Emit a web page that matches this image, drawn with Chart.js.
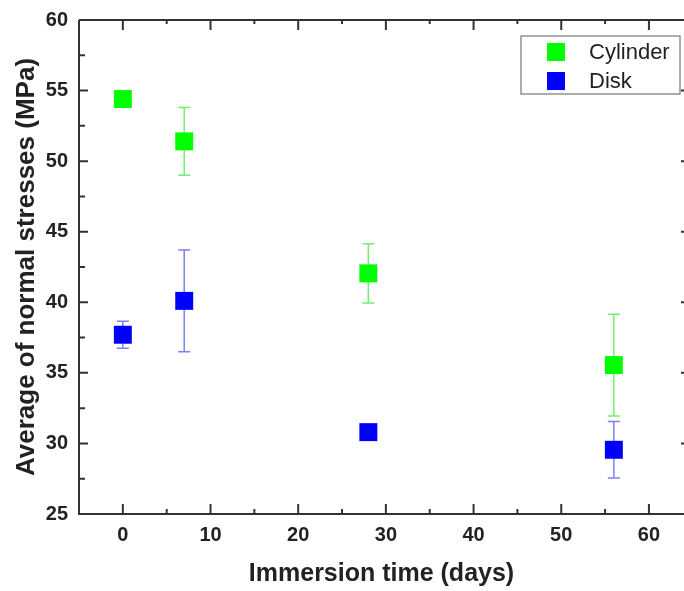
<!DOCTYPE html>
<html>
<head>
<meta charset="utf-8">
<script src="https://cdn.jsdelivr.net/npm/chart.js@4.4.0/dist/chart.umd.min.js"></script>
<style>
  html, body { margin: 0; padding: 0; background: #fff; }
  #wrap { width: 684px; height: 591px; }
</style>
</head>
<body>
<div id="wrap"><canvas id="stressChart" width="684" height="591"></canvas></div>
<script>
// immersion time (days) and measured stresses (MPa)
var days = [0, 7, 28, 56];
var cylinder = [54.4, 51.4, 42.05, 35.55];
var cylinderErr = [0, 2.4, 2.1, 3.6];
var disk = [37.7, 40.1, 30.8, 29.55];
var diskErr = [0.95, 3.6, 0, 2.0];

var dayTicks = [0, 10, 20, 30, 40, 50, 60];
var stressTicks = [25, 30, 35, 40, 45, 50, 55, 60];

var FONT = "'Liberation Sans', Arial, sans-serif";

function points(ys) {
  return days.map(function (d, i) { return { x: d, y: ys[i] }; });
}

// error bars under the markers, then frame, tick marks and legend box on top
var framePlugin = {
  id: "frame",
  beforeDatasetsDraw: function (chart) {
    var ctx = chart.ctx;
    var yScale = chart.scales.y;
    chart.data.datasets.forEach(function (ds, di) {
      var meta = chart.getDatasetMeta(di);
      ctx.save();
      ctx.strokeStyle = ds.errorColor;
      ctx.lineWidth = 1.5;
      meta.data.forEach(function (pt, i) {
        var e = ds.errors[i];
        if (!e) return;
        var v = ds.data[i].y;
        var top = yScale.getPixelForValue(v + e);
        var bot = yScale.getPixelForValue(v - e);
        ctx.beginPath();
        ctx.moveTo(pt.x, top); ctx.lineTo(pt.x, bot);
        ctx.moveTo(pt.x - 6, top); ctx.lineTo(pt.x + 6, top);
        ctx.moveTo(pt.x - 6, bot); ctx.lineTo(pt.x + 6, bot);
        ctx.stroke();
      });
      ctx.restore();
    });
  },
  afterDraw: function (chart) {
    var ctx = chart.ctx;
    var a = chart.chartArea;
    var xs = chart.scales.x, ys = chart.scales.y;
    ctx.save();
    ctx.strokeStyle = "#333";
    ctx.lineWidth = 2;
    ctx.beginPath();
    ctx.moveTo(a.left, a.top); ctx.lineTo(a.right + 2, a.top);
    ctx.moveTo(a.left, a.top); ctx.lineTo(a.left, a.bottom);
    ctx.lineTo(a.right + 2, a.bottom);
    ctx.stroke();

    ctx.beginPath();
    var v, px, major;
    for (v = 0; v <= 60; v += 5) {
      px = xs.getPixelForValue(v);
      major = v % 10 === 0;
      ctx.moveTo(px, a.bottom); ctx.lineTo(px, a.bottom - (major ? 10 : 5));
      ctx.moveTo(px, a.top); ctx.lineTo(px, a.top + (major ? 10 : 4));
    }
    for (v = 25; v <= 60; v += 2.5) {
      px = ys.getPixelForValue(v);
      major = v % 5 === 0;
      ctx.moveTo(a.left, px); ctx.lineTo(a.left + (major ? 9 : 6), px);
      if (major) { ctx.moveTo(a.right, px); ctx.lineTo(a.right - 3, px); }
    }
    ctx.stroke();

    // legend
    ctx.strokeStyle = "#777";
    ctx.lineWidth = 1.2;
    ctx.strokeRect(521, 36, 159, 58);
    ctx.font = "22px " + FONT;
    ctx.textBaseline = "middle";
    chart.data.datasets.forEach(function (ds, i) {
      var cy = 52 + i * 29;
      ctx.fillStyle = ds.backgroundColor;
      ctx.fillRect(547, cy - 9, 18, 18);
      ctx.fillStyle = "#222";
      ctx.fillText(ds.label, 589, cy + 1);
    });
    ctx.restore();
  }
};

var ctx = document.getElementById("stressChart").getContext("2d");

var myChart = new Chart(ctx, {
  type: "scatter",
  data: {
    datasets: [
      {
        label: "Cylinder",
        data: points(cylinder),
        errors: cylinderErr,
        errorColor: "rgba(110, 235, 110, 0.95)",
        backgroundColor: "#00ff00",
        borderColor: "#00ff00",
        borderWidth: 0,
        pointStyle: "rect",
        pointRadius: 12.7,
        pointHoverRadius: 12.7,
      },
      {
        label: "Disk",
        data: points(disk),
        errors: diskErr,
        errorColor: "rgba(120, 120, 240, 0.95)",
        backgroundColor: "#0000ff",
        borderColor: "#0000ff",
        borderWidth: 0,
        pointStyle: "rect",
        pointRadius: 12.7,
        pointHoverRadius: 12.7,
      },
    ],
  },
  options: {
    responsive: false,
    animation: false,
    layout: { autoPadding: false, padding: { top: 20, right: 0, left: 0, bottom: 0 } },
    scales: {
      x: {
        type: "linear",
        position: "bottom",
        min: -5,
        max: 64,
        afterBuildTicks: function (s) {
          s.ticks = dayTicks.map(function (v) { return { value: v }; });
        },
        afterFit: function (s) {
          s.height = 77;
          s.paddingLeft = 0;
          s.paddingRight = 0;
        },
        grid: { display: false, drawTicks: false },
        border: { display: false },
        ticks: {
          color: "#222",
          padding: 9,
          maxRotation: 0,
          font: { family: FONT, size: 20, weight: "bold" },
        },
        title: {
          display: true,
          text: "Immersion time (days)",
          color: "#222",
          padding: { top: 0, bottom: 2 },
          font: { family: FONT, size: 25, weight: "bold" },
        },
      },
      y: {
        type: "linear",
        position: "left",
        min: 25,
        max: 60,
        afterBuildTicks: function (s) {
          s.ticks = stressTicks.map(function (v) { return { value: v }; });
        },
        afterFit: function (s) {
          s.width = 79;
          s.paddingTop = 0;
          s.paddingBottom = 0;
        },
        grid: { display: false, drawTicks: false },
        border: { display: false },
        ticks: {
          color: "#222",
          padding: 11,
          font: { family: FONT, size: 20, weight: "bold" },
        },
        title: {
          display: true,
          text: "Average of normal stresses (MPa)",
          color: "#222",
          padding: { top: 11, bottom: 0 },
          font: { family: FONT, size: 26, weight: "bold" },
        },
      },
    },
    plugins: {
      legend: { display: false },
      tooltip: { enabled: false },
    },
  },
  plugins: [framePlugin],
});
</script>
</body>
</html>
